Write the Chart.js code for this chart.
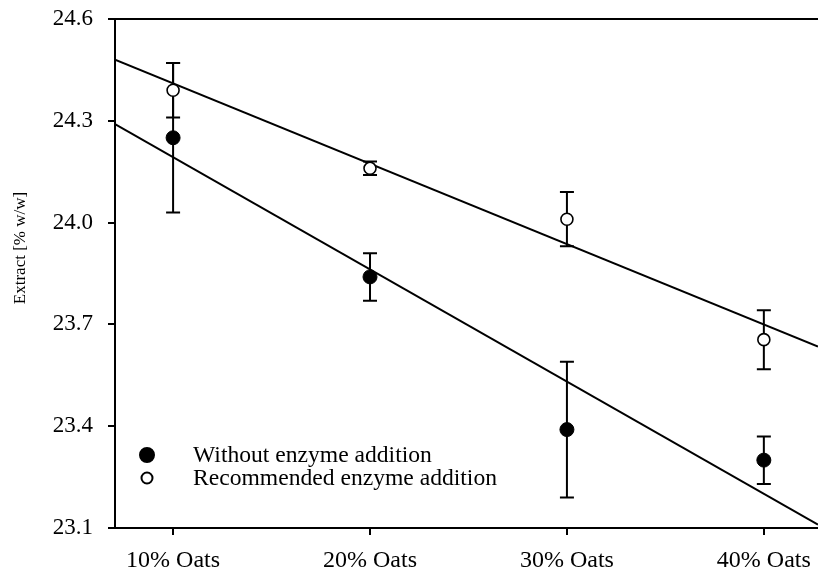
<!DOCTYPE html>
<html>
<head>
<meta charset="utf-8">
<script src="https://cdn.jsdelivr.net/npm/chart.js@4.4.0/dist/chart.umd.min.js"></script>
<style>
  html, body { margin: 0; background: #fff; overflow: hidden; }
  /* a little wider than the window: the figure is cut at its right edge */
  #wrap { position: relative; width: 826px; height: 574px; }
</style>
</head>
<body>
<div id="wrap"><canvas id="extractChart"></canvas></div>
<script>
/* data */
var categories = ["10% Oats", "20% Oats", "30% Oats", "40% Oats"];
var oatsPct = [10, 20, 30, 40];
var yTicks = [23.1, 23.4, 23.7, 24.0, 24.3, 24.6];

var withoutMean = [24.25, 23.84, 23.39, 23.30];
var withoutErr = [0.22, 0.07, 0.20, 0.07];

var recMean = [24.39, 24.16, 24.01, 23.655];
var recErr = [0.08, 0.02, 0.08, 0.087];

// regression lines, end points at the plot edges
var fitX = [7.05, 42.75];
var fitWithout = [24.29, 23.11];
var fitRec = [24.48, 23.635];

var seriesLabels = ["Without enzyme addition", "Recommended enzyme addition"];

var FONT = "'Liberation Serif', 'Times New Roman', serif";

function toPoints(xs, ys) {
	var pts = [];
	for (var i = 0; i < xs.length; i++) {
		pts.push({ x: xs[i], y: ys[i] });
	}
	return pts;
}

// no extra room for overhanging labels, the frame is fixed
function noOverhang(scale) {
	scale.paddingTop = 0;
	scale.paddingBottom = 0;
	scale.paddingLeft = 0;
	scale.paddingRight = 0;
}

/* error bars, drawn under the markers */
var errorBarPlugin = {
	id: 'errorBars',
	beforeDatasetsDraw: function(chart) {
		var ctx = chart.ctx;
		var xs = chart.scales.x, ys = chart.scales.y;
		var sets = [[withoutMean, withoutErr], [recMean, recErr]];
		ctx.save();
		ctx.strokeStyle = '#000';
		ctx.lineWidth = 2;
		for (var s = 0; s < sets.length; s++) {
			var m = sets[s][0], e = sets[s][1];
			for (var i = 0; i < oatsPct.length; i++) {
				var px = xs.getPixelForValue(oatsPct[i]);
				var top = ys.getPixelForValue(m[i] + e[i]);
				var bot = ys.getPixelForValue(m[i] - e[i]);
				ctx.beginPath();
				ctx.moveTo(px, top); ctx.lineTo(px, bot);
				ctx.moveTo(px - 7, top); ctx.lineTo(px + 7, top);
				ctx.moveTo(px - 7, bot); ctx.lineTo(px + 7, bot);
				ctx.stroke();
			}
		}
		ctx.restore();
	}
};

/* frame top line, y title and the legend inside the plot */
var decorPlugin = {
	id: 'decor',
	afterDraw: function(chart) {
		var ctx = chart.ctx;
		var a = chart.chartArea;
		ctx.save();
		ctx.strokeStyle = '#000';
		ctx.lineWidth = 2;
		ctx.beginPath();
		ctx.moveTo(a.left, a.top);
		ctx.lineTo(a.right, a.top);
		ctx.stroke();

		// y axis title
		ctx.fillStyle = '#000';
		ctx.font = "17px " + FONT;
		ctx.textAlign = 'center';
		ctx.textBaseline = 'middle';
		ctx.translate(21, 248);
		ctx.rotate(-Math.PI / 2);
		ctx.fillText("Extract [% w/w]", 0, 0);
		ctx.restore();

		// legend
		ctx.save();
		ctx.font = "23.6px " + FONT;
		ctx.textAlign = 'left';
		ctx.textBaseline = 'middle';
		var lx = a.left + 32;
		var ly = [a.bottom - 73, a.bottom - 50];
		for (var k = 0; k < 2; k++) {
			ctx.beginPath();
			ctx.arc(lx, ly[k], k == 0 ? 7 : 5.5, 0, Math.PI * 2);
			ctx.fillStyle = k == 0 ? '#000' : '#fff';
			ctx.fill();
			ctx.lineWidth = 2;
			ctx.strokeStyle = '#000';
			ctx.stroke();
			ctx.fillStyle = '#000';
			ctx.fillText(seriesLabels[k], lx + 46, ly[k] + 1);
		}
		ctx.restore();
	}
};

var ctx = document.getElementById('extractChart');
var chart = new Chart(ctx, {
	type: 'scatter',
	data: {
		datasets: [
			{
				label: seriesLabels[1],
				data: toPoints(oatsPct, recMean),
				pointRadius: 6,
				pointBackgroundColor: '#fff',
				pointBorderColor: '#000',
				pointBorderWidth: 1.6,
				order: 1
			},
			{
				label: seriesLabels[0],
				data: toPoints(oatsPct, withoutMean),
				pointRadius: 7,
				pointBackgroundColor: '#000',
				pointBorderColor: '#000',
				pointBorderWidth: 1,
				order: 2
			},
			{
				label: 'fit rec',
				data: toPoints(fitX, fitRec),
				showLine: true,
				borderColor: '#000',
				borderWidth: 2,
				pointRadius: 0,
				order: 3
			},
			{
				label: 'fit without',
				data: toPoints(fitX, fitWithout),
				showLine: true,
				borderColor: '#000',
				borderWidth: 2,
				pointRadius: 0,
				order: 4
			}
		]
	},
	options: {
		responsive: true,
		maintainAspectRatio: false,
		animation: false,
		layout: { padding: { top: 19, right: 0, left: 0, bottom: 0 } },
		plugins: {
			legend: { display: false },
			tooltip: { enabled: false }
		},
		scales: {
			x: {
				type: 'linear',
				min: fitX[0],
				max: fitX[1],
				afterBuildTicks: function(scale) {
					scale.ticks = oatsPct.map(function(v) { return { value: v }; });
				},
				afterFit: function(scale) { scale.height = 46; noOverhang(scale); },
				border: { display: true, color: '#000', width: 2 },
				grid: { drawOnChartArea: false, drawTicks: true, tickLength: 7, color: '#000', lineWidth: 2 },
				ticks: {
					color: '#000',
					padding: 11,
					maxRotation: 0,
					font: { family: FONT, size: 24 },
					callback: function(v) {
						var i = oatsPct.indexOf(v);
						return i >= 0 ? categories[i] : '';
					}
				}
			},
			y: {
				min: yTicks[0],
				max: yTicks[yTicks.length - 1],
				afterBuildTicks: function(scale) {
					scale.ticks = yTicks.map(function(v) { return { value: v }; });
				},
				afterFit: function(scale) { scale.width = 115; noOverhang(scale); },
				border: { display: true, color: '#000', width: 2 },
				grid: { drawOnChartArea: false, drawTicks: true, tickLength: 7, color: '#000', lineWidth: 2 },
				ticks: {
					color: '#000',
					padding: 15,
					font: { family: FONT, size: 23 },
					callback: function(v) { return v.toFixed(1); }
				}
			}
		}
	},
	plugins: [errorBarPlugin, decorPlugin]
});
</script>
</body>
</html>
